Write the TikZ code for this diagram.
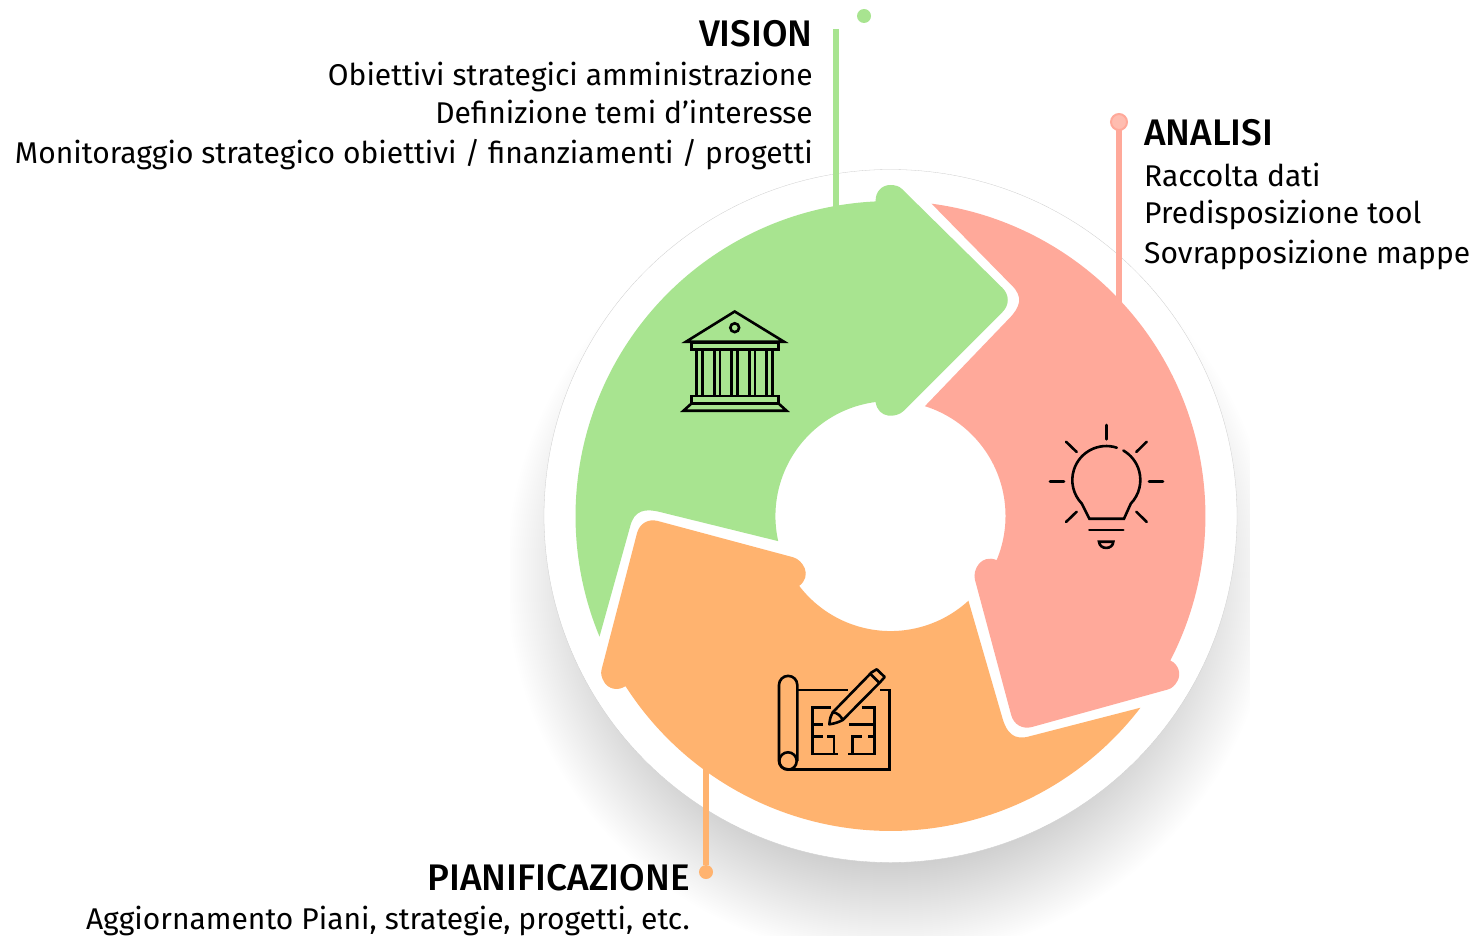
\documentclass[tikz,border=0pt]{standalone}
\usepackage{fontspec}
\setmainfont[BoldFont={Fira Sans Medium}]{Fira Sans}
\definecolor{cgreen}{HTML}{A8E490}
\definecolor{cpink}{HTML}{FFA99A}
\definecolor{corange}{HTML}{FFB36F}
\definecolor{cpinkl}{HTML}{FFBDB0}
\newcommand{\bandarrow}{
  (599.5,636.6) arc[start angle=157.5,end angle=267.3,radius=315]
  .. controls (875,192) and (882,185) .. (890,185)
  .. controls (895,185) and (899,186) .. (902,189)
  -- (1002.5,288) .. controls (1009.5,295) and (1009.5,305) .. (1002.5,312)
  -- (903.5,411) .. controls (896.5,418) and (878,419) .. (875.6,402)
  arc[start angle=262.6,end angle=167.4,radius=115]
  -- (660,512) .. controls (645,508.2) and (634,510) .. (630,527) -- cycle}
\tikzset{
  x=1pt,y=-1pt,
  bandgreen/.style={fill=cgreen},
  bandpink/.style={fill=cpink,rotate around={-120:(890.5,516)}},
  bandorange/.style={fill=corange,rotate around={-240:(890.5,516)}},
  lead/.style={line width=6pt},
  dotmark/.style={circle,inner sep=0pt,minimum size=14pt},
  headline/.style={font=\fontsize{37}{37}\selectfont\bfseries,inner sep=0pt},
  bodyline/.style={font=\fontsize{30}{30}\selectfont,inner sep=0pt},
  icon/.style={draw=black,line width=2.6pt,line join=miter},
}
\begin{document}
\begin{tikzpicture}
\useasboundingbox (0,0) rectangle (1477,936);
% soft shadow
\begin{scope}
\clip (510,300) rectangle (1250,936);
\foreach \r in {290,292,...,385}{
  \fill[black,opacity=0.0050] (890.5,575) circle[radius=\r];
}
\end{scope}
\fill[white] (890.5,516) circle[radius=346.5];
\draw[black!20,line width=0.3pt] (890.5,516) circle[radius=346.5];

% connector anchors
\coordinate (visionTop) at (836,29);
\coordinate (visionEnd) at (836,207);
\coordinate (analisiEnd) at (1119,305);
\coordinate (pianEnd) at (706,765);
\node[dotmark,fill=cgreen] (visionDot) at (864,16) {};
\node[dotmark,fill=cpinkl,draw=cpink,line width=2pt,minimum size=16pt] (analisiDot) at (1119,122) {};
\node[dotmark,fill=corange] (pianDot) at (706,872) {};
\draw[lead,cgreen] (visionTop) -- (visionEnd);
\draw[lead,cpink] ([yshift=1pt]analisiDot.south) -- (analisiEnd);
\draw[lead,corange] (pianDot.north) -- (pianEnd);

% arrows
\fill[bandgreen] \bandarrow;
\fill[bandpink] \bandarrow;
\fill[bandorange] \bandarrow;

% temple icon
\begin{scope}[icon]
\draw (686,341.7) -- (734.7,311.5) -- (784,341.7) -- cycle;
\draw (734.7,327.7) circle[radius=4.4];
\draw (691.7,342.7) rectangle (778.3,349.3);
\foreach \a/\b in {696.7/702.7,714.3/720,731.7/737.3,749.3/755,766.7/772.3}{
  \draw (\a,349.3) -- (\a,396) (\b,349.3) -- (\b,396);
}
\draw (691.7,396) rectangle (778.3,403.3);
\draw (691.7,403.3) -- (778.3,403.3) -- (786.5,410.7) -- (683.5,410.7) -- cycle;
\end{scope}

% bulb icon
\begin{scope}[icon,line cap=round]
\draw (1106.3,425) -- (1106.3,439.3);
\draw (1066,441.7) -- (1076.7,452);
\draw (1146.7,441.7) -- (1136.3,452);
\draw (1050,481.7) -- (1064,481.7);
\draw (1149,481.7) -- (1163,481.7);
\draw (1066,522) -- (1076.7,511.7);
\draw (1146.7,522) -- (1136.3,511.7);
\draw (1116.8,447.7) arc[start angle=288,end angle=136,radius=34]
  -- (1089.3,518.7) -- (1124,518.7) -- (1130.8,503.6)
  arc[start angle=44,end angle=-60,radius=34];
\draw (1089.3,530) -- (1123.3,530);
\draw (1099,541.7) -- (1113.3,541.7) .. controls (1113,550) and (1099.5,550) .. cycle;
\end{scope}

% plan icon
\begin{scope}[icon]
\draw (788,769.3) .. controls (782,769.3) and (779,765) .. (779,761) -- (779,685)
  arc[start angle=180,end angle=360,radius=9.15] -- (797.3,761);
\draw (788,761) circle[radius=8.7];
\draw (797.3,690) -- (848.3,690);
\draw (880,690) -- (889.3,690) -- (889.3,769.3) -- (788,769.3);
\draw[line join=round] (829.3,724.3) .. controls (830,718) and (831,715) .. (832.7,712.3)
  -- (871.7,672.3) -- (876.7,669.3) -- (884.7,677) -- (880,682.3) -- (842.7,720)
  .. controls (839,722) and (835,723.5) .. cycle;
\draw (832.7,712.3) .. controls (837,712.5) and (841,716) .. (842.7,720);
\draw (870.5,674) -- (879.5,683);
\draw (830.7,707.3) -- (812.3,707.3) -- (812.3,754) -- (838.3,754);
\draw (812.3,724.3) -- (823.3,724.3);
\draw (812.3,736.7) -- (823.3,736.7);
\draw (827.3,736.7) -- (834,736.7) -- (834,754);
\draw (861.7,707.3) -- (874.3,707.3) -- (874.3,754) -- (848.3,754);
\draw (849.3,724.3) -- (874.3,724.3);
\draw (861.7,736.7) -- (852.7,736.7) -- (852.7,754);
\draw (868.3,736.7) -- (874.3,736.7);
\end{scope}

% texts
\node[headline,anchor=base east] (visionHead) at (813,47) {VISION};
\node[bodyline,anchor=base east] (v1) at (813,86) {Obiettivi strategici amministrazione};
\node[bodyline,anchor=base east] (v2) at (813,123.5) {Definizione temi d’interesse};
\node[bodyline,anchor=base east] (v3) at (813,163.5) {Monitoraggio strategico obiettivi / finanziamenti / progetti};
\node[headline,anchor=base west] (anHead) at (1144,146) {ANALISI};
\node[bodyline,anchor=base west] (a1) at (1144,186) {Raccolta dati};
\node[bodyline,anchor=base west] (a2) at (1144,223) {Predisposizione tool};
\node[bodyline,anchor=base west] (a3) at (1144,263) {Sovrapposizione mappe};
\node[headline,anchor=base east] (pHead) at (690,890) {PIANIFICAZIONE};
\node[bodyline,anchor=base east] (p1) at (690,929) {Aggiornamento Piani, strategie, progetti, etc.};
\end{tikzpicture}
\end{document}
